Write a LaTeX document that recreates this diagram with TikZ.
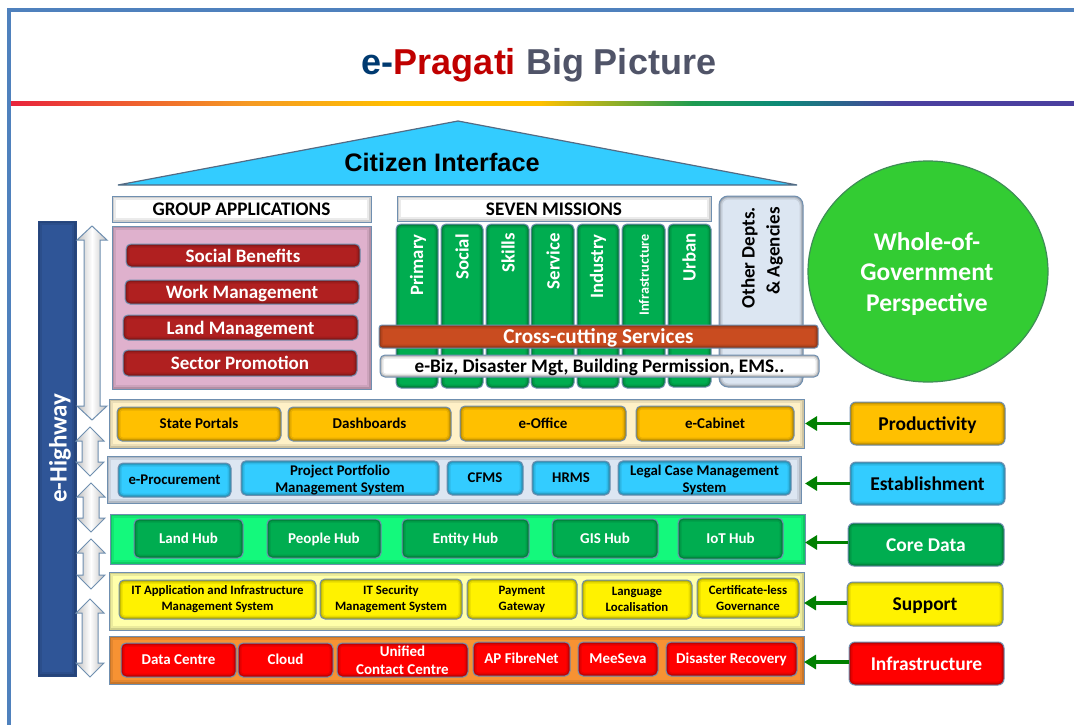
\documentclass[tikz,border=0pt]{standalone}
\usepackage{fontspec}
\setmainfont{Carlito}
\newfontfamily\libsans{Liberation Sans}
\usetikzlibrary{arrows.meta,calc,shapes.geometric}
\definecolor{frameblue}{HTML}{4F81BD}
\definecolor{edgeblue}{HTML}{6F8FB0}
\definecolor{cyanbox}{HTML}{33CCFF}
\definecolor{amberbox}{HTML}{FFC000}
\definecolor{greenbox}{HTML}{00AD50}
\definecolor{redbar}{HTML}{B02020}
\definecolor{pinkpanel}{HTML}{DFB1CD}
\definecolor{crossbar}{HTML}{C94C20}
\definecolor{paleblue}{HTML}{DCE6F2}
\definecolor{circlegreen}{HTML}{33CC33}
\definecolor{hwblue}{HTML}{2F5597}
\definecolor{arrowgreen}{HTML}{008000}
\definecolor{ruleend}{HTML}{4A3F9F}
\definecolor{ruleteal}{HTML}{0B8A78}
\definecolor{rulegreen}{HTML}{1E9C50}
\definecolor{rulered}{HTML}{E8243C}
\definecolor{ruleorange}{HTML}{F59A23}
\newcommand\bx[7][]{%
  \pgfmathsetmacro\bw{#5-#3}\pgfmathsetmacro\bh{#6-#4}%
  \node[#1,minimum width=\bw pt,minimum height=\bh pt] (#2) at ({(#3+#5)/2},{(#4+#6)/2}) {#7};}
\newcommand\darrow[5]{% name, cx, top, bottom, half width of the head
  \draw[blockarrow] (#2,#3) -- ++(#5,14) -- ++({-#5+8},0) -- (#2+8,#4-14) -- ++({#5-8},0) -- (#2,#4)
    -- ++(-#5,-14) -- ++({#5-8},0) -- (#2-8,#3+14) -- ++({-#5+8},0) -- cycle;}
\newcommand\lowr{\rule{0pt}{14.5pt}}
\tikzset{
  x=1pt,y=-1pt,
  lbl/.style 2 args={font=\fontsize{#1}{#2}\selectfont},
  blbl/.style 2 args={font=\fontsize{#1}{#2}\selectfont\bfseries},
  bevel/.style={path picture={
    \draw[black,opacity=.09,line width=7pt,rounded corners=#1] (path picture bounding box.south west) rectangle (path picture bounding box.north east);
    \draw[black,opacity=.13,line width=4pt,rounded corners=#1] (path picture bounding box.south west) rectangle (path picture bounding box.north east);
    \draw[black,opacity=.10,line width=2pt,rounded corners=#1] (path picture bounding box.south west) rectangle (path picture bounding box.north east);}},
  softbevel/.style={path picture={
    \draw[black,opacity=.08,line width=8pt] (path picture bounding box.south west) rectangle (path picture bounding box.north east);
    \draw[black,opacity=.12,line width=4pt] (path picture bounding box.south west) rectangle (path picture bounding box.north east);}},
  base/.style={inner sep=0pt,outer sep=0pt,align=center,line width=1pt,draw=edgeblue},
  panel/.style={base,rectangle,softbevel},
  tile/.style={base,rectangle,rounded corners=5pt,bevel=5pt},
  headerbox/.style={panel,fill=white,text=black,blbl={19.2}{22},text height=13.5pt,text depth=0pt},
  redtile/.style={tile,fill=redbar,text=white,blbl={19}{22},text height=16pt,text depth=3pt},
  col/.style={tile,fill=greenbox},
  coltext/.style={rotate=90,anchor=east,text=white,inner sep=0pt},
  oneline/.style={text height=11pt,text depth=2pt},
  amber/.style={tile,fill=amberbox,text=black,blbl={15}{17},oneline},
  cyantile/.style={tile,fill=cyanbox,text=black,blbl={14.8}{17.5}},
  hub/.style={tile,fill=greenbox,text=white,blbl={15}{17},text height=12pt,text depth=2pt},
  yellowtile/.style={tile,fill=yellow,text=black,blbl={12.8}{16}},
  redtile2/.style={tile,fill=red,text=white,blbl={15}{18}},
  side/.style={tile,rounded corners=6pt,blbl={19.5}{22},text height=16pt,text depth=3pt},
  blockarrow/.style={draw=edgeblue,line width=1pt,line join=miter,left color=black!25,right color=black!25,middle color=white},
  feed/.style={draw=arrowgreen,line width=3.4pt,-{Triangle[length=12pt,width=14pt]}},
}
\begin{document}
\begin{tikzpicture}
\useasboundingbox (0,0) rectangle (1074,725);
\fill[white] (0,0) rectangle (1074,725);
% frame
\draw[frameblue,line width=4pt] (8.5,725) -- (8.5,10.5) -- (1074,10.5);
% title
\node[anchor=center,inner sep=0pt,font=\libsans\fontsize{36}{40}\selectfont\bfseries] (title) at (539,65)
  {\textcolor[HTML]{003A70}{e-}\textcolor[HTML]{C00000}{Pragati} \textcolor[HTML]{505468}{Big Picture}};
% rainbow rule
\fill[left color=rulered,right color=ruleorange] (11,101) rectangle (250,105);
\fill[left color=ruleorange,right color=amberbox] (249.5,101) rectangle (400,105);
\fill[left color=amberbox,right color=amberbox] (399.5,101) rectangle (540,105);
\fill[left color=amberbox,right color=rulegreen] (539.5,101) rectangle (693,105);
\fill[left color=rulegreen,right color=ruleteal] (692.5,101) rectangle (780,105);
\fill[left color=ruleteal,right color=ruleend] (779.5,101) rectangle (900,105);
\fill[left color=ruleend,right color=ruleend] (899.5,101) rectangle (1074,105);
% roof
\draw[draw=edgeblue!75!black,line width=1.2pt,fill=cyanbox,line join=miter] (118,185) -- (458,121) -- (797,185) -- cycle;
\node[inner sep=0pt,font=\libsans\fontsize{25.3}{28}\selectfont\bfseries] (citizen) at (442,162) {Citizen Interface};
% e-highway
\bx[panel,fill=hwblue,draw=hwblue!85!black]{hw}{38}{221}{76}{676}{}
\node[rotate=90,text=white,blbl={25}{30}] (hwt) at (60,448) {e-Highway};
% double arrows
\darrow{a1}{92}{226}{420}{15}
\darrow{a2}{90}{427}{476}{14}
\darrow{a3}{91}{483}{532}{14}
\darrow{a4}{91}{539}{589}{14}
\darrow{a5}{90}{599}{677}{14}
% group applications
\bx[headerbox]{gh}{112}{196}{371}{222}{GROUP APPLICATIONS}
\bx[panel,fill=pinkpanel]{gp}{112}{226}{371}{389}{}
\bx[redtile]{g1}{126}{244}{360}{267}{Social Benefits}
\bx[redtile]{g2}{125}{280}{359}{304}{Work Management}
\bx[redtile]{g3}{123}{315}{358}{340}{Land Management}
\bx[redtile]{g4}{123}{350}{357}{376}{Sector Promotion}
% missions
\bx[headerbox]{mh}{397}{196}{711}{221}{SEVEN MISSIONS}
\bx[col]{c1}{396}{224}{438}{388}{}
\bx[col]{c2}{441}{224}{483}{388}{}
\bx[col]{c3}{486}{224}{529}{388}{}
\bx[col]{c4}{531}{224}{574}{388}{}
\bx[col]{c5}{577}{224}{619}{388}{}
\bx[col]{c6}{622}{224}{665}{388}{}
\bx[col]{c7}{668}{224}{711}{387}{}
\node[coltext,blbl={18.8}{22}] (t1) at (418,234) {Primary};
\node[coltext,blbl={18.8}{22}] (t2) at (462,234) {Social};
\node[coltext,blbl={18.8}{22}] (t3) at (508,233) {Skills};
\node[coltext,blbl={18.8}{22}] (t4) at (553,233) {Service};
\node[coltext,blbl={18.8}{22}] (t5) at (598,234) {Industry};
\node[coltext,blbl={14.2}{17}] (t6) at (644,234) {Infrastructure};
\node[coltext,blbl={18.8}{22}] (t7) at (689,233) {Urban};
\bx[tile,rounded corners=9pt,bevel=9pt,fill=paleblue,draw=edgeblue]{od}{719}{196}{803}{387}{}
\node[rotate=90,text=black,align=right,blbl={19}{25},anchor=east,inner sep=0pt] (odt) at (762,207) {Other Depts.\\\& Agencies};
\bx[tile,rounded corners=3pt,bevel=3pt,fill=crossbar,text=white,blbl={21.2}{24},text height=17pt,text depth=3pt]{cc}{379}{325}{818}{348}{Cross-cutting Services}
\bx[tile,fill=white,text=black,blbl={19.2}{22},text height=16.5pt,text depth=3pt]{eb}{380}{355}{819}{377}{e-Biz, Disaster Mgt, Building Permission, EMS..}
% circle
\node[ellipse,draw=circlegreen!55!edgeblue!80!black,line width=1.2pt,fill=circlegreen,minimum width=240pt,minimum height=221pt,inner sep=0pt,outer sep=0pt] (wg) at (928,271.5) {};
\node[text=white,align=center,blbl={25.5}{30.5}] (wgt) at (927,274) {Whole-of-\\Government\\Perspective};
% layers
\bx[panel,fill=amberbox!22!white]{lp}{109}{399}{804}{448}{}
\bx[amber]{p1}{117}{407}{281}{441}{State Portals}
\bx[amber]{p2}{288}{407}{451}{441}{Dashboards}
\bx[amber]{p3}{460}{406}{626}{441}{e-Office}
\bx[amber]{p4}{636}{406}{794}{441}{e-Cabinet}
\bx[panel,fill=paleblue]{le}{107}{456}{801}{503}{}
\bx[cyantile,oneline]{e1}{118}{463}{231}{497}{e-Procurement}
\bx[cyantile]{e2}{241}{461}{439}{495}{\lowr Project Portfolio\\Management System}
\bx[cyantile,oneline]{e3}{447}{461}{523}{495}{CFMS}
\bx[cyantile,oneline]{e4}{532}{461}{610}{495}{HRMS}
\bx[cyantile]{e5}{618}{461}{791}{495}{\lowr Legal Case Management\\System}
\bx[panel,fill={rgb,255:red,20;green,249;blue,124}]{lc}{110}{514}{805}{564}{}
\bx[hub]{h1}{134}{519}{243}{558}{Land Hub}
\bx[hub]{h2}{267}{519}{381}{558}{People Hub}
\bx[hub]{h3}{402}{519}{529}{558}{Entity Hub}
\bx[hub]{h4}{552}{519}{658}{558}{GIS Hub}
\bx[hub]{h5}{678}{518}{783}{559}{IoT Hub}
\bx[panel,fill={rgb,255:red,255;green,255;blue,170}]{ls}{109}{572}{804}{630}{}
\bx[yellowtile]{s1}{119}{580}{316}{619}{IT Application and Infrastructure\\Management System}
\bx[yellowtile]{s2}{320}{579}{462}{619}{IT Security\\Management System}
\bx[yellowtile]{s3}{467}{579}{577}{619}{Payment\\Gateway}
\bx[yellowtile]{s4}{582}{580}{692}{619}{Language\\Localisation}
\bx[yellowtile]{s5}{697}{578}{799}{618}{Certificate-less\\Governance}
\bx[panel,fill={rgb,255:red,247;green,146;blue,51}]{li}{109}{636}{804}{684}{}
\bx[redtile2,oneline]{i1}{121}{643}{236}{677}{Data Centre}
\bx[redtile2,oneline]{i2}{238}{643}{333}{677}{Cloud}
\bx[redtile2]{i3}{337}{643}{468}{677}{Unified\\Contact Centre}
\bx[redtile2,oneline]{i4}{473}{642}{570}{676}{AP FibreNet}
\bx[redtile2,oneline]{i5}{578}{642}{658}{676}{MeeSeva}
\bx[redtile2,oneline]{i6}{666}{642}{797}{676}{Disaster Recovery}
% side labels
\bx[side,fill=amberbox,text=black]{rp}{850}{402}{1005}{445}{Productivity}
\bx[side,fill=cyanbox,text=black]{re}{850}{462}{1005}{505}{Establishment}
\bx[side,fill=greenbox,text=white]{rc}{848}{523}{1004}{566}{Core Data}
\bx[side,fill=yellow,text=black]{rs}{847}{582}{1003}{626}{Support}
\bx[side,fill=red,text=white]{ri}{849}{642}{1004}{685}{Infrastructure}
% connectors
\coordinate (tp) at ($(lp.east)+(1,0)$);
\coordinate (te) at ($(re.west -| le.east)+(4,0)$);
\coordinate (tc) at ($(rc.west -| lc.east)+(0,-2)$);
\coordinate (fc) at ($(rc.west)+(0,-2)$);
\coordinate (ts) at ($(rs.west -| ls.east)+(0,-1)$);
\coordinate (fs) at ($(rs.west)+(0,-1)$);
\coordinate (ti) at ($(ri.west -| li.east)+(0,-1.5)$);
\coordinate (fi) at ($(ri.west)+(0,-1.5)$);
\draw[feed] (rp.west) -- (tp);
\draw[feed] (re.west) -- (te);
\draw[feed] (fc) -- (tc);
\draw[feed] (fs) -- (ts);
\draw[feed] (fi) -- (ti);
\end{tikzpicture}
\end{document}
